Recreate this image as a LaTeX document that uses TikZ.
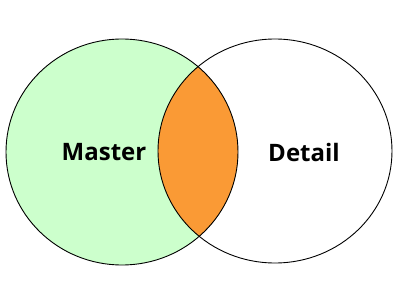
\documentclass[tikz,border=0pt]{standalone}
\usepackage{fontspec}
\setmainfont{Open Sans}
\definecolor{mastergreen}{HTML}{CCFFCC}
\definecolor{overlaporange}{HTML}{FA9A35}
\begin{document}
\begin{tikzpicture}[x=1pt,y=-1pt,
  setline/.style={draw=black,line width=0.9pt},
  setlabel/.style={font=\bfseries\fontsize{24}{28}\selectfont,text=black}]
\useasboundingbox (0,0) rectangle (400,300);
% left set (Master)
\fill[mastergreen] (122,152) ellipse [x radius=116, y radius=113];
% overlap
\begin{scope}
  \clip (122,152) ellipse [x radius=116, y radius=113];
  \fill[overlaporange] (275,151) ellipse [x radius=117, y radius=112];
\end{scope}
\draw[setline] (122,152) ellipse [x radius=116, y radius=113];
\draw[setline] (275,151) ellipse [x radius=117, y radius=112];
\node[setlabel] (master) at (104,152) {Master};
\node[setlabel] (detail) at (304,152) {Detail};
\end{tikzpicture}
\end{document}
